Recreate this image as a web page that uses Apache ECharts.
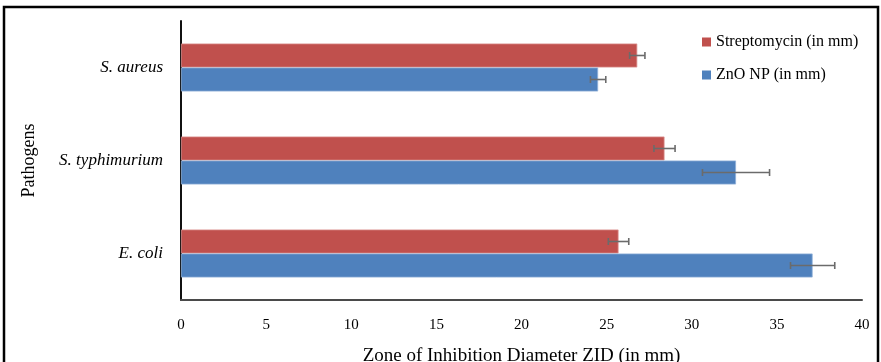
<!DOCTYPE html>
<html>
<head>
<meta charset="utf-8">
<script src="https://cdn.jsdelivr.net/npm/echarts@6/dist/echarts.min.js"></script>
<style>
  html, body { margin: 0; padding: 0; background: #fff; }
  #chart { width: 881px; height: 362px; }
</style>
</head>
<body>
<div id="chart"></div>
<script>
// Zone of inhibition per pathogen, mean and error (mm)
const pathogens = ['S. aureus', 'S. typhimurium', 'E. coli'];
const seriesNames = ['Streptomycin (in mm)', 'ZnO NP (in mm)'];
const streptomycin = [26.8, 28.4, 25.7];
const streptomycinErr = [0.45, 0.62, 0.6];
const znoNP = [24.5, 32.6, 37.1];
const znoNPErr = [0.45, 1.97, 1.3];
const xTicks = { min: 0, max: 40, interval: 5 };

const serif = '"Liberation Serif", "Times New Roman", serif';
const BAR_W = 24;

function errorBars(values, errs, offset) {
  return {
    type: 'custom',
    silent: true,
    z: 10,
    data: values.map((v, i) => [v - errs[i], v + errs[i], i]),
    renderItem: function (params, api) {
      const lo = api.coord([api.value(0), api.value(2)]);
      const hi = api.coord([api.value(1), api.value(2)]);
      const y = lo[1] + offset;
      const cap = 3.5;
      const style = { stroke: '#6b6b6b', lineWidth: 1.6 };
      return {
        type: 'group',
        children: [
          { type: 'line', shape: { x1: lo[0], y1: y, x2: hi[0], y2: y }, style: style },
          { type: 'line', shape: { x1: lo[0], y1: y - cap, x2: lo[0], y2: y + cap }, style: style },
          { type: 'line', shape: { x1: hi[0], y1: y - cap, x2: hi[0], y2: y + cap }, style: style }
        ]
      };
    }
  };
}

const chart = echarts.init(document.getElementById('chart'), null, { renderer: 'canvas' });
chart.setOption({
  animation: false,
  backgroundColor: '#fff',
  grid: { left: 181, right: 19, top: 21, bottom: 62, containLabel: false, outerBoundsMode: 'none' },
  legend: {
    orient: 'vertical',
    left: 697,
    top: 28,
    data: seriesNames,
    icon: 'rect',
    itemWidth: 9,
    itemHeight: 9,
    itemGap: 15,
    itemStyle: { borderWidth: 0 },
    textStyle: { fontFamily: serif, fontSize: 16, color: '#000', lineHeight: 18 }
  },
  xAxis: {
    type: 'value',
    min: xTicks.min,
    max: xTicks.max,
    interval: xTicks.interval,
    name: 'Zone of Inhibition Diameter ZID (in mm)',
    nameLocation: 'middle',
    nameGap: 47,
    nameTextStyle: { fontFamily: serif, fontSize: 19, color: '#000' },
    axisLine: { show: true, lineStyle: { color: '#4a4a4a', width: 2 } },
    axisTick: { show: false },
    splitLine: { show: false },
    axisLabel: { fontFamily: serif, fontSize: 15, color: '#000', margin: 18 }
  },
  yAxis: {
    type: 'category',
    inverse: true,
    data: pathogens,
    name: 'Pathogens',
    nameLocation: 'middle',
    nameGap: 143,
    nameRotate: 90,
    nameTextStyle: { fontFamily: serif, fontSize: 18, color: '#000' },
    axisLine: { show: true, onZero: false, lineStyle: { color: '#111', width: 2 } },
    axisTick: { show: false },
    axisLabel: { fontFamily: serif, fontSize: 17, fontStyle: 'italic', color: '#000', margin: 18 }
  },
  series: [
    {
      name: seriesNames[0],
      type: 'bar',
      data: streptomycin,
      barWidth: BAR_W,
      barGap: '0%',
      itemStyle: { color: '#C0504D', borderColor: '#d98f8d', borderWidth: 0.8 }
    },
    {
      name: seriesNames[1],
      type: 'bar',
      data: znoNP,
      barWidth: BAR_W,
      barGap: '0%',
      itemStyle: { color: '#4F81BD', borderColor: '#8fb0d8', borderWidth: 0.8 }
    },
    errorBars(streptomycin, streptomycinErr, -BAR_W / 2),
    errorBars(znoNP, znoNPErr, BAR_W / 2)
  ],
  graphic: [
    {
      type: 'rect',
      silent: true,
      shape: { x: 4, y: 7, width: 874, height: 400 },
      style: { fill: 'none', stroke: '#000', lineWidth: 2.5 }
    }
  ]
});
</script>
</body>
</html>
